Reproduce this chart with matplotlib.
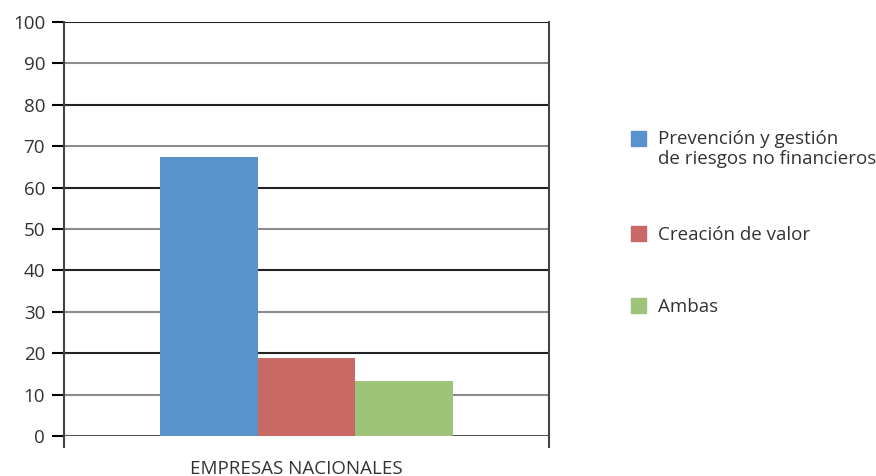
import matplotlib
matplotlib.use('Agg')
import matplotlib.pyplot as plt
from matplotlib.patches import Rectangle

# data
category = 'EMPRESAS NACIONALES'
series = ['Prevención y gestión\nde riesgos no financieros', 'Creación de valor', 'Ambas']
values = [67.4, 18.9, 13.4]
colors = ['#5A93CB', '#C86966', '#9EC47A']
yticks = list(range(0, 101, 10))

plt.rcParams['font.family'] = ['Open Sans', 'DejaVu Sans']
plt.rcParams['font.size'] = 13.5
txt_color = '#333333'

W, H = 876, 476
fig = plt.figure(figsize=(W / 100, H / 100), dpi=100)
# axes box in pixels: x 64..549, y 22..436
ax = fig.add_axes([64 / W, (H - 436) / H, (549 - 64) / W, (436 - 22) / H])

bw = 0.201
for i, (v, c) in enumerate(zip(values, colors)):
    ax.bar((i - 1) * bw, v, width=bw, color=c, zorder=3)

ax.set_xlim(-0.5, 0.5)
ax.set_ylim(0, 100)
ax.set_yticks(yticks)
ax.set_yticklabels([str(t) for t in yticks], color=txt_color)
ax.tick_params(axis='y', length=8.6, width=1.5, pad=5)

# gridlines alternate dark / grey like the original
ax.yaxis.grid(True, linewidth=1.5, zorder=1)
for k, (gl, tl) in enumerate(zip(ax.get_ygridlines(), ax.yaxis.get_major_ticks())):
    c = '#222222' if k % 2 == 0 else '#8c8c8c'
    if k == 0:
        c = '#555555'
    gl.set_color(c)
    tl.tick1line.set_color(c)
ax.set_axisbelow(True)

# category boundaries as ticks, label in the middle
ax.set_xticks([-0.5, 0.5])
ax.set_xticklabels(['', ''])
ax.tick_params(axis='x', which='major', length=8.6, width=1.5, color='#444444')
ax.set_xticks([-0.02], minor=True)
ax.set_xticklabels([category], minor=True, color=txt_color)
ax.tick_params(axis='x', which='minor', length=0, pad=17)

for s in ['top', 'bottom']:
    ax.spines[s].set_visible(False)
for s in ['left', 'right']:
    ax.spines[s].set_linewidth(1.5)
    ax.spines[s].set_color('#444444')

# legend drawn on the figure, handle next to first line of each label
leg_y = [138, 233, 305]
for lab, c, yc in zip(series, colors, leg_y):
    fig.patches.append(Rectangle((631 / W, (H - yc - 7.5) / H), 15 / W, 15 / H,
                                 transform=fig.transFigure, color=c))
    fig.text(658 / W, (H - yc + 7.5) / H, lab, ha='left', va='top',
             color=txt_color, fontsize=13.5, linespacing=1.1)

fig.savefig('out.png', dpi=100)
